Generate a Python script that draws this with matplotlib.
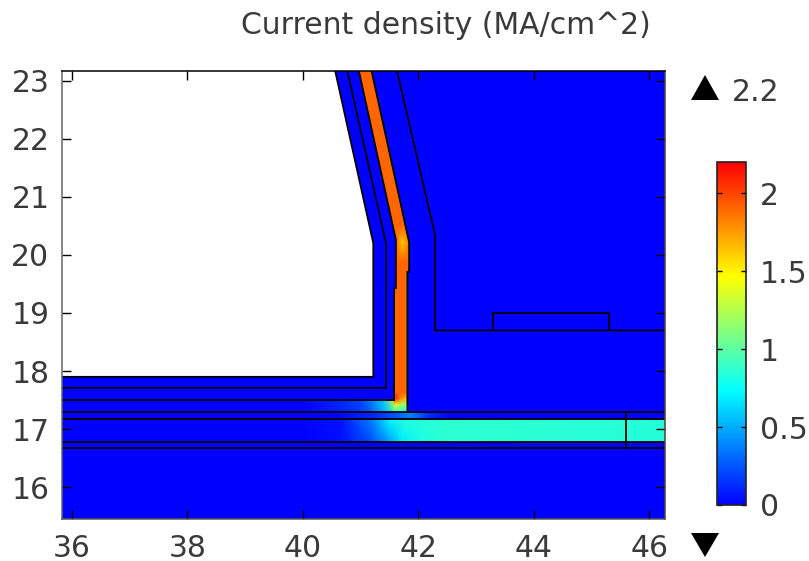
import matplotlib
matplotlib.use('Agg')
import matplotlib.pyplot as plt
import numpy as np
from matplotlib.colors import LinearSegmentedColormap, Normalize
from matplotlib.cm import ScalarMappable
from matplotlib.patches import Polygon

# axis ranges
xlim = (35.83, 46.27)
ylim = (15.45, 23.17)
xticks = [36, 38, 40, 42, 44, 46]
yticks = [16, 17, 18, 19, 20, 21, 22, 23]
cticks = [0, 0.5, 1, 1.5, 2]
cticklabels = ['0', '0.5', '1', '1.5', '2']
vmax = 2.2

# geometry boundaries
void_x = [35.83, 41.22, 41.22, 40.56, 35.83]
void_y = [17.9, 17.9, 20.2, 23.17, 23.17]
line2_x = [35.83, 41.44, 41.44, 40.77]
line2_y = [17.71, 17.71, 20.2, 23.17]
line3_x = [35.83, 41.58, 41.58, 41.61, 41.61, 40.97]
line3_y = [17.5, 17.5, 19.43, 19.43, 20.26, 23.17]
line4_x = [41.81, 41.81, 41.84, 41.84, 41.19]
line4_y = [17.3, 19.71, 19.71, 20.22, 23.17]
outer_x = [41.63, 42.29, 42.29, 46.27]
outer_y = [23.17, 20.34, 18.7, 18.7]
pad_x = [43.3, 43.3, 45.3, 45.3]
pad_y = [18.7, 19.0, 19.0, 18.7]
layers_y = [17.3, 17.17, 16.78, 16.67]
cut_x = [45.6, 45.6]
cut_y = [17.3, 16.67]

# current density values
wire_j = 1.9
band_x = [35.83, 40.0, 40.65, 40.8, 41.2, 41.5, 41.74, 42.08, 42.5, 46.27]
band_top_j = [0.0, 0.0, 0.06, 0.13, 0.38, 0.72, 0.84, 0.85, 0.86, 0.84]
band_bot_j = [0.0, 0.0, 0.04, 0.08, 0.24, 0.47, 0.68, 0.82, 0.86, 0.84]
thin_x = [35.83, 40.5, 41.2, 41.6, 41.85, 42.2, 42.6, 46.27]
thin_j = [0.0, 0.0, 0.12, 0.25, 0.38, 0.12, 0.0, 0.0]
foot_x = [41.58, 41.7, 41.81]
foot_y = [17.3, 17.42, 17.53, 17.62]
foot_j = [[0.9, 0.8, 0.75], [1.4, 1.25, 1.1], [2.15, 1.8, 1.6], [1.95, 1.9, 1.88]]
liner_x = [35.83, 40.0, 40.65, 41.0, 41.2, 41.4, 41.6]
liner_top_j = [0.0, 0.0, 0.12, 0.2, 0.38, 0.6, 1.5]
liner_bot_j = [0.0, 0.0, 0.1, 0.17, 0.3, 0.5, 0.85]
kink_x = [41.61, 41.72, 41.84]
kink_y = [19.9, 20.22, 20.5]
kink_j = [[1.9, 1.9, 1.9], [1.9, 1.6, 1.85], [1.9, 1.9, 1.9]]

W, H = 809, 561
text_color = '#3a3a3a'
fs = 21.5
plt.rcParams['font.family'] = 'DejaVu Sans'

cmap = LinearSegmentedColormap.from_list('rb', ['#0000ff', '#00ffff', '#ffff00', '#ff0000'], N=256)
norm = Normalize(vmin=0, vmax=vmax)

fig = plt.figure(figsize=(W / 100, H / 100), dpi=100)
ax = fig.add_axes([62 / W, 1 - 519 / H, 603 / W, 448 / H])
ax.set_facecolor(cmap(0.0))
ax.set_xlim(xlim)
ax.set_ylim(ylim)


def mesh(x, y, j):
    return ax.pcolormesh(x, y, np.array(j), cmap=cmap, norm=norm, shading='gouraud', zorder=1)


mesh(band_x, [layers_y[2], layers_y[1]], [band_bot_j, band_top_j])
mesh(thin_x, [layers_y[1], layers_y[0]], [thin_j, thin_j])
mesh(liner_x, [17.3, 17.5], [liner_bot_j, liner_top_j])

# the bright wire
wire_x = line3_x[1:] + line4_x[::-1]
wire_y = [17.6] + line3_y[2:] + line4_y[::-1]
wire = Polygon(np.column_stack([wire_x, wire_y]), closed=True, fc=cmap(norm(wire_j)), ec='none', zorder=1)
ax.add_patch(wire)
mesh(foot_x, foot_y, foot_j)
kink = mesh(kink_x, kink_y, kink_j)
kink.set_clip_path(wire)

ax.add_patch(Polygon(np.column_stack([void_x, void_y]), closed=True, fc='white', ec='none', zorder=2))

# boundaries
lw = 1.3
for bx, by in [(void_x[:4], void_y[:4]), (line2_x, line2_y), (line3_x, line3_y),
               (line4_x, line4_y), (outer_x, outer_y), (pad_x, pad_y), (cut_x, cut_y)]:
    ax.plot(bx, by, color='black', lw=lw, zorder=3, solid_joinstyle='miter')
for ly in layers_y:
    ax.plot(xlim, [ly, ly], color='black', lw=lw, zorder=3)

ax.set_xticks(xticks)
ax.set_yticks(yticks)
ax.tick_params(direction='in', length=6.5, width=1, top=True, right=True,
               labelsize=fs, labelcolor=text_color)
ax.tick_params(axis='x', pad=10.5)
ax.tick_params(axis='y', pad=9)
for sp in ax.spines.values():
    sp.set_linewidth(1.1)
    sp.set_zorder(5)
ax.spines['left'].set_color('#666666')
ax.spines['bottom'].set_color('#555555')
ax.spines['right'].set_color('#444444')
ax.set_axisbelow(False)

# colorbar
cax = fig.add_axes([717 / W, 1 - 505 / H, 29 / W, 343 / H])
cb = fig.colorbar(ScalarMappable(norm=norm, cmap=cmap), cax=cax, ticks=cticks)
cb.set_ticklabels(cticklabels)
cax.tick_params(direction='in', length=3.5, width=1, left=True, right=True,
                labelsize=fs, labelcolor=text_color, pad=10)
cb.outline.set_linewidth(1.2)
cb.outline.set_edgecolor('#222222')

fig.text(446 / W, 1 - 26 / H, 'Current density (MA/cm^2)', ha='center', va='center',
         fontsize=fs, color=text_color)
fig.text(732 / W, 1 - 92 / H, '2.2', ha='left', va='center', fontsize=fs, color=text_color)

# max and min markers
up = [(691 / W, 1 - 100 / H), (719 / W, 1 - 100 / H), (705 / W, 1 - 75 / H)]
down = [(691 / W, 1 - 533 / H), (719 / W, 1 - 533 / H), (705 / W, 1 - 557 / H)]
fig.add_artist(Polygon(up, closed=True, fc='black', ec='none', transform=fig.transFigure))
fig.add_artist(Polygon(down, closed=True, fc='black', ec='none', transform=fig.transFigure))

fig.savefig('out.png', dpi=100)
